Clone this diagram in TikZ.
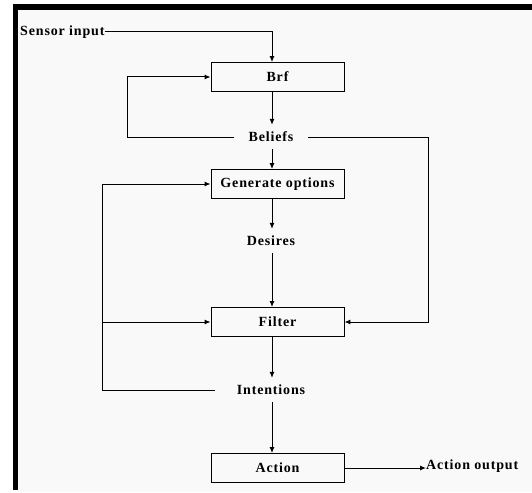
\documentclass[tikz,border=0pt]{standalone}
\usepackage{fontspec}
\setmainfont{Liberation Serif}
\usetikzlibrary{arrows.meta}
\definecolor{paper}{RGB}{249,249,249}
\def\txt{\bfseries\fontsize{14}{16}\selectfont\addfontfeature{LetterSpace=6}}
\tikzset{
  blk/.style={draw, line width=0.9pt, minimum width=133pt, minimum height=29pt, inner sep=0pt, font=\txt},
  lbl/.style={inner xsep=14pt, inner ysep=7pt, font=\txt},
  flow/.style={line width=1pt, -{Latex[length=6pt,width=5pt]}},
  wire/.style={line width=1pt}
}

\begin{document}
\begin{tikzpicture}[x=1pt, y=-1pt]
\useasboundingbox (0,0) rectangle (532,492);
\fill[white] (0,0) rectangle (532,492);
\fill[paper] (18,10) rectangle (532,492);
\fill[black] (13,4) rectangle (532,10);
\fill[black] (13,4) rectangle (18,490);

\coordinate (c) at (272,0);
\coordinate (la) at (127,0);
\coordinate (lb) at (102,0);
\coordinate (ra) at (428,0);

\node[inner sep=0pt, anchor=west, font=\txt] (sen) at (20,32) {Sensor input};
\node[blk] (brf) at (277.5,77) {Brf};
\node[lbl] (bel) at (271,137) {Beliefs};
\node[blk] (gen) at (277.5,184) {Generate options};
\node[lbl] (des) at (271,241) {Desires};
\node[blk] (fil) at (277.5,322) {Filter};
\node[lbl, inner xsep=22pt] (int) at (271,390) {Intentions};
\node[blk] (act) at (277.5,468) {Action};
\node[inner sep=0pt, anchor=west, font=\txt] (out) at (426,466) {Action output};

\draw[flow] (sen.east) -| (c |- brf.north);
\draw[flow] (c |- brf.south) -- (c |- bel.north);
\draw[flow] (c |- bel.south) -- (c |- gen.north);
\draw[flow] (c |- gen.south) -- (c |- des.north);
\draw[flow] (c |- des.south) -- (c |- fil.north);
\draw[flow] (c |- fil.south) -- (c |- int.north);
\draw[flow] (c |- int.south) -- (c |- act.north);
\draw[flow] (act.east) -- (act.east -| out.west);

\draw[flow] (bel.west) -| (la |- brf.west) -- (brf.west);
\draw[flow] (bel.east) -| (ra |- fil.east) -- (fil.east);
\draw[flow] (int.west) -| (lb |- gen.west) -- (gen.west);
\draw[flow] (lb |- fil.west) -- (fil.west);
\end{tikzpicture}
\end{document}
